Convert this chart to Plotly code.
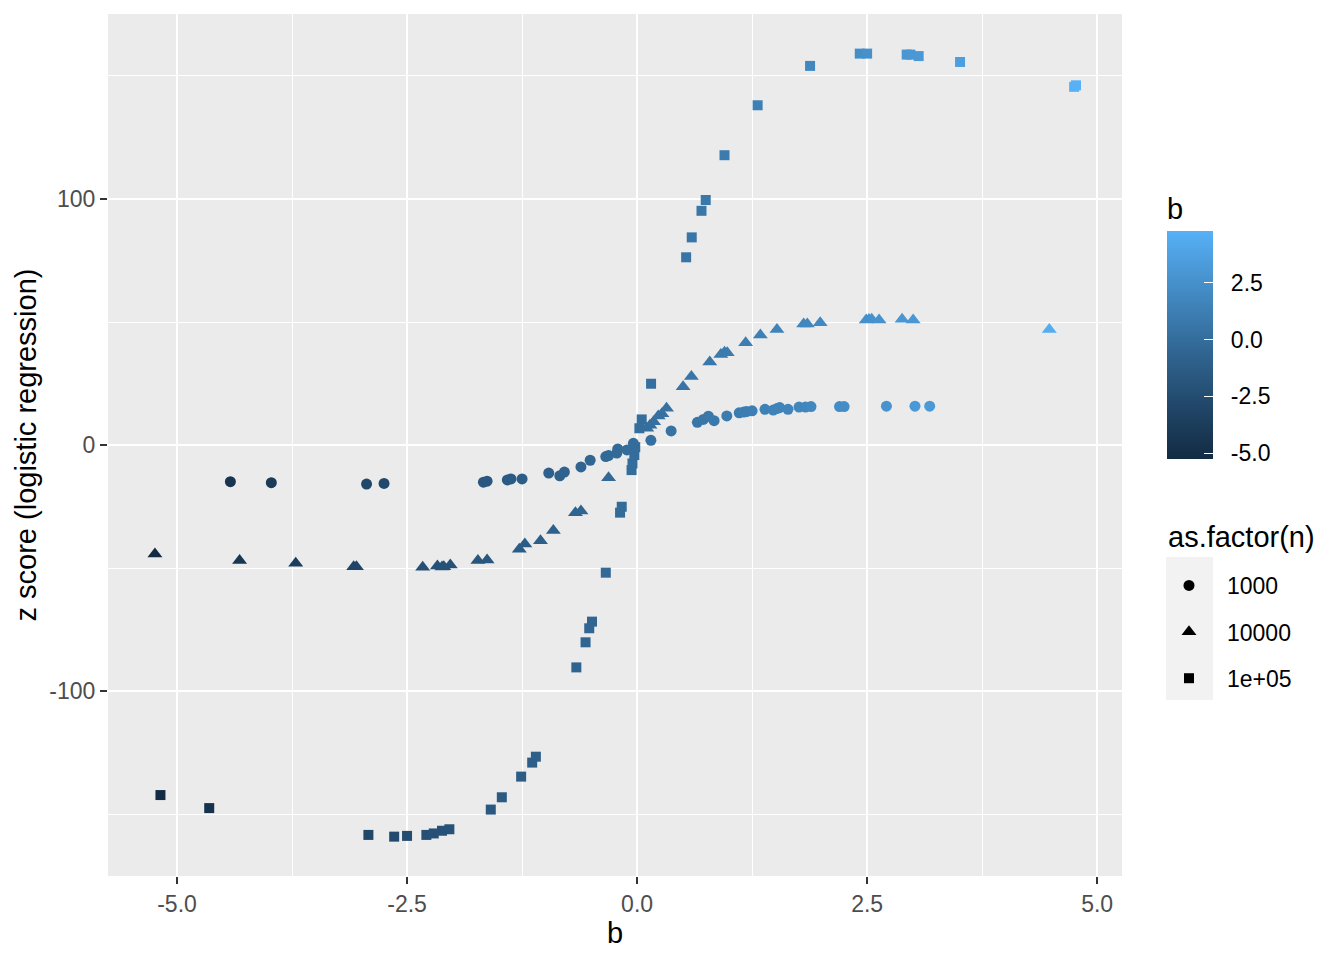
import numpy as np
import plotly.graph_objects as go

# ---------------- data ----------------
b_1000 = [-4.42, -3.975, -2.94, -2.75, -1.67, -1.63, -1.41, -1.37, -1.25, -0.96,
          -0.84, -0.79, -0.61, -0.51, -0.34, -0.31, -0.22, -0.21, -0.11, -0.04,
          -0.03, 0.15, 0.37, 0.655, 0.72, 0.775, 0.837, 0.975, 1.11, 1.16,
          1.19, 1.25, 1.39, 1.48, 1.52, 1.55, 1.64, 1.76, 1.83, 1.89,
          2.20, 2.25, 2.71, 3.02, 3.18]
z_1000 = [-14.9, -15.3, -15.9, -15.6, -15.1, -14.7, -14.2, -13.8, -13.8, -11.4,
          -12.5, -11.0, -8.9, -6.2, -4.7, -4.3, -3.3, -1.6, -2.0, 0.7,
          -1.3, 1.9, 5.7, 9.2, 10.4, 11.7, 9.9, 11.8, 13.1, 13.4,
          13.6, 13.9, 14.5, 14.2, 14.8, 15.2, 14.5, 15.4, 15.4, 15.6,
          15.6, 15.6, 15.8, 15.8, 15.8]

b_10000 = [-5.24, -4.32, -3.71, -3.08, -3.05, -2.33, -2.17, -2.12, -2.10, -2.03,
           -1.73, -1.63, -1.28, -1.22, -1.05, -0.91, -0.67, -0.61, -0.31, 0.105,
           0.14, 0.18, 0.23, 0.27, 0.32, 0.50, 0.59, 0.79, 0.91, 0.95,
           0.98, 1.18, 1.34, 1.52, 1.81, 1.85, 1.99, 2.49, 2.52, 2.55,
           2.63, 2.88, 3.00, 4.48]
z_10000 = [-44.3, -47.0, -48.1, -49.5, -49.5, -49.7, -49.2, -49.6, -49.5, -48.8,
           -47.0, -46.7, -42.4, -40.2, -38.9, -34.8, -27.5, -26.8, -13.3, 6.8,
           8.0, 9.5, 11.8, 12.7, 14.9, 23.7, 27.8, 33.7, 36.8, 37.7,
           37.5, 41.6, 44.7, 47.0, 49.2, 49.2, 49.7, 50.8, 51.0, 51.1,
           50.8, 51.1, 50.8, 47.0]

b_1e5 = [-5.18, -4.65, -2.92, -2.64, -2.50, -2.29, -2.21, -2.12, -2.04, -1.59,
         -1.47, -1.26, -1.14, -1.10, -0.66, -0.56, -0.52, -0.49, -0.34, -0.185,
         -0.167, -0.06, -0.05, -0.03, -0.02, 0.025, 0.05, 0.152, 0.533, 0.594,
         0.70, 0.746, 0.95, 1.31, 1.88, 2.42, 2.50, 2.93, 2.97, 3.06,
         3.51, 4.75, 4.77]
z_1e5 = [-142.3, -147.6, -158.5, -159.2, -158.9, -158.5, -157.9, -156.8, -156.2, -148.2,
         -143.2, -134.8, -129.1, -126.7, -90.4, -80.2, -74.5, -71.8, -51.9, -27.5,
         -25.1, -10.2, -7.5, -4.1, -0.9, 6.8, 10.4, 24.9, 76.3, 84.4,
         95.2, 99.6, 117.8, 138.1, 154.1, 159.1, 159.1, 158.7, 158.7, 158.1,
         155.7, 145.6, 146.2]

n_labels = ["1000", "10000", "1e+05"]
x_tickvals = [-5.0, -2.5, 0.0, 2.5, 5.0]
x_ticktext = ["-5.0", "-2.5", "0.0", "2.5", "5.0"]
y_tickvals = [-100, 0, 100]
y_ticktext = ["-100", "0", "100"]
cb_tickvals = [-5.0, -2.5, 0.0, 2.5]
cb_ticktext = ["-5.0", "-2.5", "0.0", "2.5"]

# ---------------- colour scale (ggplot2 default, Lab interpolation) ----------------
def hex2rgb(h):
    h = h.lstrip("#")
    return np.array([int(h[i:i + 2], 16) / 255 for i in (0, 2, 4)])

def srgb2lin(c):
    return np.where(c <= 0.04045, c / 12.92, ((c + 0.055) / 1.055) ** 2.4)

def lin2srgb(c):
    c = np.clip(c, 0, 1)
    return np.where(c <= 0.0031308, 12.92 * c, 1.055 * c ** (1 / 2.4) - 0.055)

M = np.array([[0.4124, 0.3576, 0.1805], [0.2126, 0.7152, 0.0722], [0.0193, 0.1192, 0.9505]])
Mi = np.linalg.inv(M)
WP = np.array([0.95047, 1.0, 1.08883])

def f(t):
    return np.where(t > (6 / 29) ** 3, np.cbrt(t), t / (3 * (6 / 29) ** 2) + 4 / 29)

def finv(t):
    return np.where(t > 6 / 29, t ** 3, 3 * (6 / 29) ** 2 * (t - 4 / 29))

def rgb2lab(rgb):
    xyz = M @ srgb2lin(rgb) / WP
    fx, fy, fz = f(xyz)
    return np.array([116 * fy - 16, 500 * (fx - fy), 200 * (fy - fz)])

def lab2rgb(lab):
    L, a, bb = lab
    fy = (L + 16) / 116
    fx = fy + a / 500
    fz = fy - bb / 200
    xyz = np.array([finv(fx), finv(fy), finv(fz)]) * WP
    return lin2srgb(Mi @ xyz)

lo, hi = rgb2lab(hex2rgb("#132B43")), rgb2lab(hex2rgb("#56B1F7"))
colorscale = []
for t in np.linspace(0, 1, 21):
    r, g, bl = (lab2rgb(lo + (hi - lo) * t) * 255).round().astype(int)
    colorscale.append([float(t), f"rgb({r},{g},{bl})"])

all_b = b_1000 + b_10000 + b_1e5
cmin, cmax = min(all_b), max(all_b)

FONT = "Liberation Sans, Arial, sans-serif"
TXT = 23
TITLE = 29
NB = "\u00a0\u00a0"

# figure geometry (page has an 8px body margin)
W, H = 1336, 952
ML, MR, MT, MB = 100, 222, 6, 84

CB_X = 1.0444           # colorbar left (paper)
CB_Y = 0.484            # colorbar bottom (paper)
CB_THICK = 46
CB_BAR = 227
CB_TITLE_H = 38

fig = go.Figure()
series = [(b_1000, z_1000, "circle", 11), (b_10000, z_10000, "triangle-up", 13),
          (b_1e5, z_1e5, "square", 10)]
for i, (bx, zy, sym, sz) in enumerate(series):
    fig.add_trace(go.Scatter(
        x=bx, y=zy, mode="markers", showlegend=False,
        marker=dict(symbol=sym, size=sz, color=bx, colorscale=colorscale,
                    cmin=cmin, cmax=cmax, line=dict(width=0),
                    showscale=(i == 0),
                    colorbar=dict(
                        title=dict(text="b", side="top", font=dict(size=TITLE, family=FONT, color="black")),
                        thickness=CB_THICK, thicknessmode="pixels",
                        len=CB_BAR + CB_TITLE_H, lenmode="pixels",
                        x=CB_X, xanchor="left", xpad=0, y=CB_Y, yanchor="bottom", ypad=0,
                        outlinewidth=0, tickvals=cb_tickvals,
                        ticktext=[NB + t for t in cb_ticktext],
                        ticks="inside", tickcolor="white", ticklen=9, tickwidth=1.2,
                        tickfont=dict(size=TXT, family=FONT, color="black"),
                    ) if i == 0 else None)))

# legend (black shape keys)
for (lab, (bx, zy, sym, sz)) in zip(n_labels, series):
    fig.add_trace(go.Scatter(
        x=[None], y=[None], mode="markers", name=lab, legendgroup=lab,
        marker=dict(symbol=sym, size=sz, color="black", line=dict(width=0))))

fig.add_shape(type="rect", xref="paper", yref="paper", x0=1.0434, x1=1.0897,
              y0=0.2042, y1=0.370, fillcolor="#F2F2F2", line=dict(width=0), layer="below")
fig.add_annotation(text="as.factor(n)", xref="paper", yref="paper", x=1.0434, y=0.393,
                   xanchor="left", yanchor="middle", showarrow=False,
                   font=dict(size=TITLE, family=FONT, color="black"))

axis_common = dict(showgrid=True, gridcolor="white", gridwidth=2.2, zeroline=False,
                   ticks="outside", ticklen=7, tickwidth=2, tickcolor="#333333",
                   tickfont=dict(size=TXT, family=FONT, color="#4D4D4D"),
                   showline=False)

fig.update_layout(
    width=W, height=H,
    margin=dict(l=ML, r=MR, t=MT, b=MB),
    plot_bgcolor="#EBEBEB", paper_bgcolor="white",
    font=dict(family=FONT, color="black"),
    xaxis=dict(range=[-5.75, 5.27], tickvals=x_tickvals, ticktext=x_ticktext,
               minor=dict(showgrid=True, gridcolor="white", gridwidth=1.1, dtick=1.25, tick0=0),
               title=dict(text="b", font=dict(size=TITLE, family=FONT, color="black"), standoff=4),
               **axis_common),
    yaxis=dict(range=[-175.2, 175.2], tickvals=y_tickvals, ticktext=y_ticktext,
               minor=dict(showgrid=True, gridcolor="white", gridwidth=1.1, dtick=50, tick0=0),
               title=dict(text="z score (logistic regression)", font=dict(size=TITLE, family=FONT, color="black"), standoff=4),
               **axis_common),
    legend=dict(font=dict(size=TXT, family=FONT, color="black"),
                x=1.0286, xanchor="left", y=0.362, yanchor="top", itemwidth=66,
                bgcolor="rgba(0,0,0,0)", tracegroupgap=13.5, traceorder="grouped"),
)

fig.write_html("out.html")
